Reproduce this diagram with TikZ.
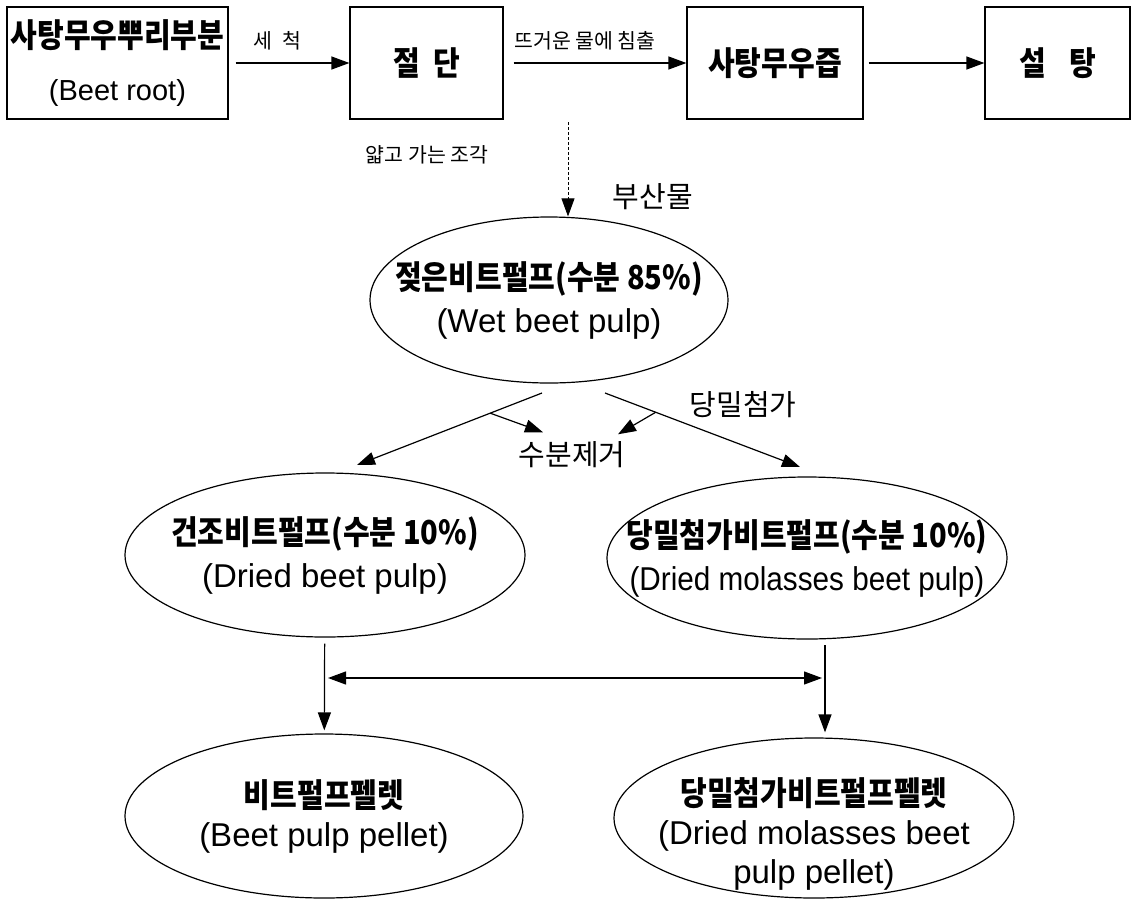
\documentclass[tikz,border=0pt]{standalone}
\usepackage{fontspec}
\usetikzlibrary{shapes.geometric,arrows.meta}
\newfontfamily\kor{Noto Sans CJK KR}
\newfontfamily\korc[FakeStretch=0.88]{Noto Sans CJK KR}
\newfontfamily\lat{Liberation Sans}
\newfontfamily\latc[FakeStretch=0.9]{Liberation Sans}

\begin{document}
\begin{tikzpicture}[x=1pt,y=-1pt,line width=1.2pt]
\tikzstyle{stage}=[draw,rectangle,minimum height=112pt,inner sep=0pt,align=center,font=\korc\bfseries\fontsize{33}{53}\selectfont];
\tikzstyle{pulp}=[draw,ellipse,inner sep=0pt,minimum width=400pt,minimum height=164pt];
\tikzstyle{pulptext}=[align=center,inner sep=0pt,font=\fontsize{33}{43}\selectfont];
\tikzstyle{pellettext}=[align=center,inner sep=0pt,font=\fontsize{33}{39}\selectfont];
\tikzstyle{note}=[inner sep=0pt,font=\kor\fontsize{20.5}{24}\selectfont];
\tikzstyle{bignote}=[inner sep=0pt,font=\kor\fontsize{29}{33}\selectfont];
\tikzstyle{flow}=[-{Triangle[length=18pt,width=13pt]}];
\tikzstyle{swap}=[{Triangle[length=18pt,width=13pt]}-{Triangle[length=18pt,width=13pt]}];
\useasboundingbox (0,0) rectangle (1133,903);

% top row
\node[stage,minimum width=221pt] (root) at (117.5,63) {사탕무우뿌리부분\\{\lat\mdseries\fontsize{29}{53}\selectfont (Beet root)}};
\node[stage,minimum width=153pt] (cut) at (426.5,63) {절\hspace{0.4em}단};
\node[stage,minimum width=176pt] (juice) at (775,63) {사탕무우즙};
\node[stage,minimum width=145pt] (sugar) at (1057.5,63) {설\hspace{0.7em}탕};

\draw[flow,shorten <=7pt] (root) -- (cut);
\draw[flow,shorten <=10pt] (cut) -- (juice);
\draw[flow,shorten <=5pt] (juice) -- (sugar);

\node[note] (wash) at (277,41) {세\enspace 척};
\node[note] (steep) at (585,41) {뜨거운 물에 침출};
\node[note] (slice) at (427,155) {얇고 가는 조각};
\node[bignote] (byprod) at (653,197) {부산물};

% pulp
\node[pulp,minimum width=358pt,minimum height=166pt,
  label={[pulptext]center:{{\korc\bfseries 젖은비트펄프(수분 85\%)}\\{\lat (Wet beet pulp)}}}] (wet) at (549,300) {};
\node[pulp,
  label={[pulptext]center:{{\korc\bfseries 건조비트펄프(수분 10\%)}\\{\lat (Dried beet pulp)}}}] (dried) at (325,555) {};
\node[pulp,minimum height=162pt,
  label={[pulptext]center:{{\korc\bfseries 당밀첨가비트펄프(수분 10\%)}\\{\latc (Dried molasses beet pulp)}}}] (mol) at (807,558) {};
\node[pulp,minimum width=398pt,
  label={[pellettext]center:{{\korc\bfseries 비트펄프펠렛}\\{\lat (Beet pulp pellet)}}}] (bpp) at (324,816) {};
\node[pulp,minimum height=160pt,
  label={[pellettext,yshift=-16pt]center:{{\korc\bfseries 당밀첨가비트펄프펠렛}\\{\lat (Dried molasses beet}\\{\lat pulp pellet)}}}] (mpp) at (814,818) {};

\coordinate (drop) at (568,122);
\draw[flow,line width=0.8pt,dash pattern=on 3pt off 2pt] (drop) -- (drop |- wet.north);

% split
\coordinate (splitL) at (542,393);
\coordinate (splitR) at (605,393);
\coordinate (dryin) at (357,465);
\coordinate (molin) at (800,467);
\draw[flow] (splitL) -- coordinate[pos=0.28] (dewl) (dryin);
\draw[flow] (splitR) -- coordinate[pos=0.26] (molr) (molin);
\node[bignote] (molas) at (743,405) {당밀첨가};
\node[bignote] (water) at (572,455) {수분제거};
\draw[flow] (dewl) -- ([xshift=-29pt,yshift=9pt]water.north);
\draw[flow] (molr) -- ([xshift=46pt,yshift=7pt]water.north);

% pellets
\draw[flow,shorten <=6pt,shorten >=3pt] (dried) -- (bpp);
\coordinate (moldown) at (825,645);
\draw[flow,shorten >=5pt] (moldown) -- (moldown |- mpp.north);
\coordinate (swapL) at (323,678);
\coordinate (swapR) at (825,678);
\draw[swap,shorten <=5pt,shorten >=3pt] (swapL) -- (swapR);
\end{tikzpicture}
\end{document}
